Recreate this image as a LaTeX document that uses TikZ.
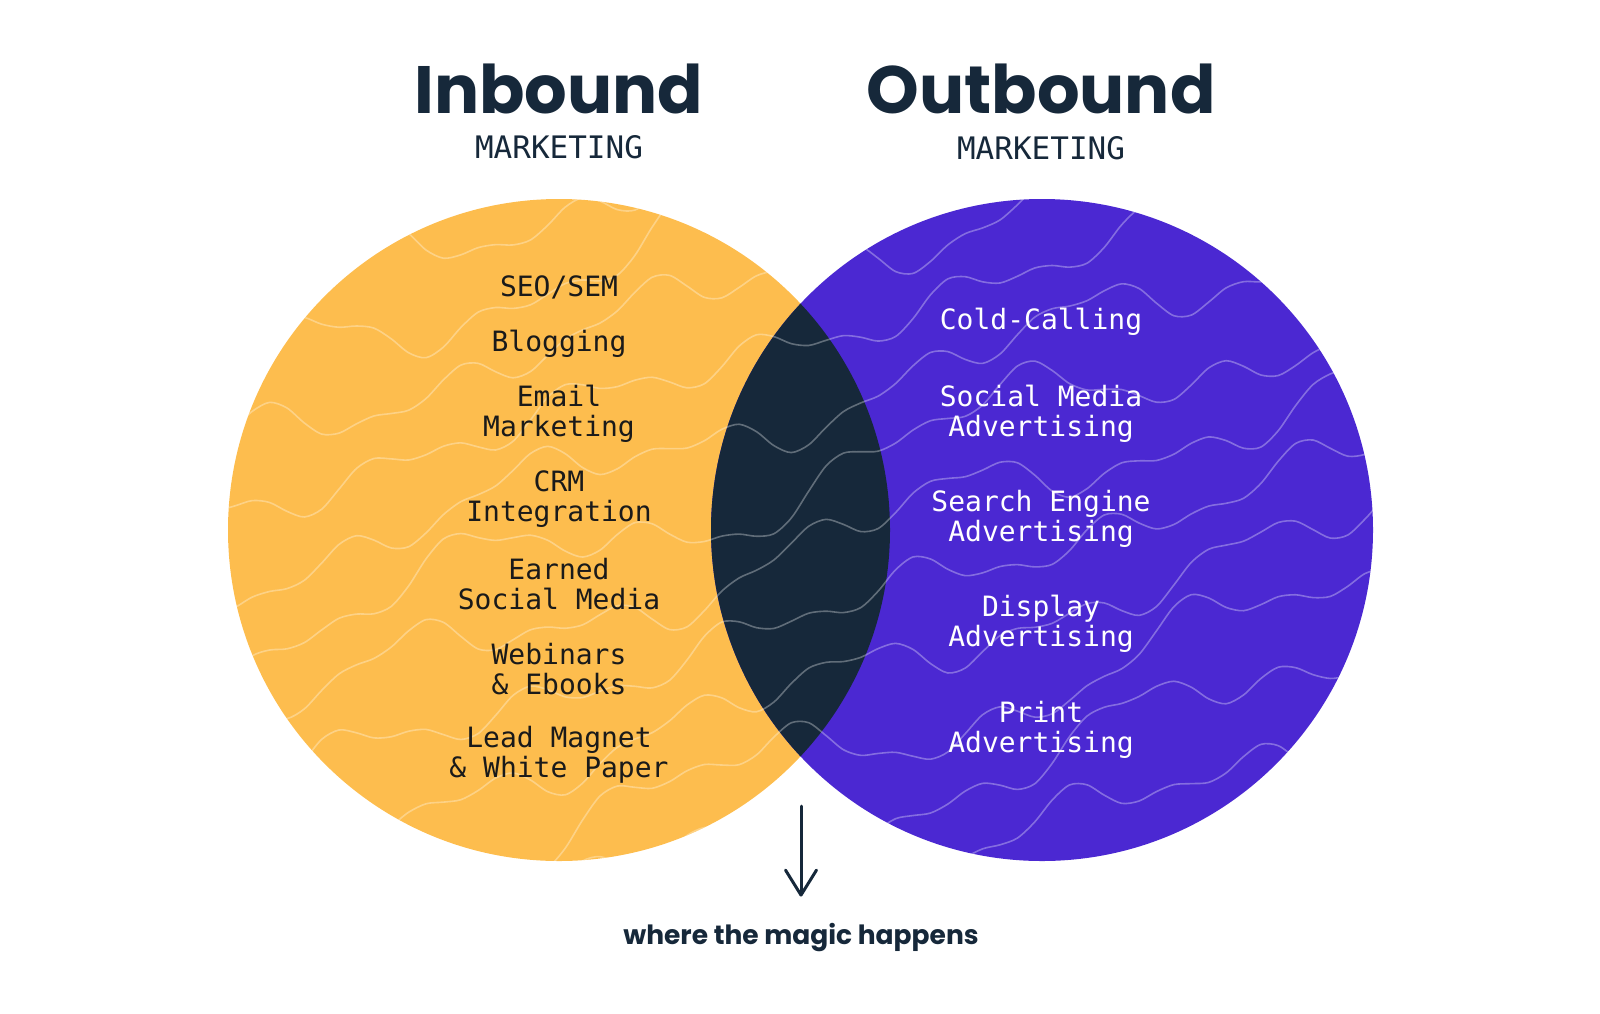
\documentclass[tikz,border=0pt]{standalone}
\usepackage{fontspec}
\setmainfont{Poppins}
\setmonofont{DejaVu Sans Mono}
\usetikzlibrary{arrows.meta}
\definecolor{inyellow}{HTML}{FDBD4E}
\definecolor{outpurple}{HTML}{4B28D2}
\definecolor{navy}{HTML}{16283A}
\definecolor{ink}{HTML}{1A1A1A}

\begin{document}
\begin{tikzpicture}[x=1pt,y=-1pt,
 title/.style={font=\fontsize{67}{67}\selectfont\bfseries,text=navy,inner sep=0pt,anchor=base},
 sub/.style={font=\fontsize{31}{31}\selectfont\ttfamily,text=navy,inner sep=0pt,anchor=base},
 item/.style={font=\fontsize{28}{30}\selectfont\ttfamily,align=center,inner sep=0pt},
 topo/.style={white,opacity=0.32,line width=1.6pt}
]
 \useasboundingbox (0,0) rectangle (1600,1013);
 \coordinate (inC) at (559,530);
 \coordinate (outC) at (1042,530);
 % the two sets and the overlap
 \fill[inyellow] (inC) circle (331pt);
 \fill[outpurple] (outC) circle (331pt);
 \begin{scope}
  \clip (inC) circle (331pt);
  \fill[navy] (outC) circle (331pt);
 \end{scope}
 % contour texture
 \begin{scope}
  \clip (inC) circle (331pt) (outC) circle (331pt);
  \foreach \k in {0,...,24}
   \draw[topo] plot[domain=200:1400,samples=70,smooth]
    (\x,{-260+70*\k-0.3*\x+(20+12*sin(83*\k))*sin(0.7*\x+47*\k)+14*sin(1.9*\x+110*\k)+9*sin(3.7*\x+31*\k)});
 \end{scope}

 \node[title] (in) at (559,113) {Inbound};
 \node[title] (out) at (1041,113) {Outbound};
 \node[sub] (inmk) at (559,158) {MARKETING};
 \node[sub] (outmk) at (1041,159) {MARKETING};

 \node[item,text=ink] (i1) at (559,287) {SEO/SEM};
 \node[item,text=ink] (i2) at (559,344) {Blogging};
 \node[item,text=ink] (i3) at (559,414) {Email\\Marketing};
 \node[item,text=ink] (i4) at (559,499) {CRM\\Integration};
 \node[item,text=ink] (i5) at (559,584) {Earned\\Social Media};
 \node[item,text=ink] (i6) at (559,669) {Webinars\\\& Ebooks};
 \node[item,text=ink] (i7) at (559,755) {Lead Magnet\\\& White Paper};

 \node[item,text=white] (o1) at (1041,322) {Cold-Calling};
 \node[item,text=white] (o2) at (1041,414) {Social Media\\Advertising};
 \node[item,text=white] (o3) at (1041,519) {Search Engine\\Advertising};
 \node[item,text=white] (o4) at (1041,624) {Display\\Advertising};
 \node[item,text=white] (o5) at (1041,730) {Print\\Advertising};

 \node[font=\fontsize{26.5}{26.5}\selectfont\bfseries,text=navy,inner sep=0pt,anchor=base] (magic) at (801,944) {where the magic happens};
 \coordinate (arr) at (801,806);
 \draw[navy,line width=3pt,line cap=round,shorten >=26pt,
  -{Straight Barb[length=25pt,width=31pt,round]}] (arr) -- (magic.north);
\end{tikzpicture}
\end{document}
